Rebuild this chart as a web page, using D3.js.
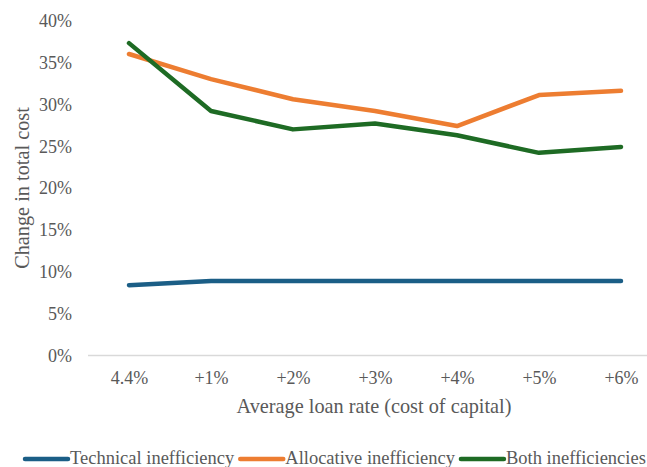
<!DOCTYPE html>
<html>
<head>
<meta charset="utf-8">
<script src="https://cdn.jsdelivr.net/npm/d3@7"></script>
<style>
  html, body { margin: 0; padding: 0; background: #fff; }
  svg text { font-family: 'Liberation Serif', Tinos, 'Times New Roman', 'DejaVu Serif', serif !important; }
</style>
</head>
<body>
<svg id="chart" width="647" height="467"></svg>
<script>
// Loan-rate scenarios and the resulting change in total cost
const categories = ["4.4%", "+1%", "+2%", "+3%", "+4%", "+5%", "+6%"];
const technical  = [0.084, 0.089, 0.089, 0.089, 0.089, 0.089, 0.089];
const allocative = [0.360, 0.330, 0.306, 0.292, 0.274, 0.311, 0.316];
const both       = [0.373, 0.292, 0.270, 0.277, 0.263, 0.242, 0.249];
const seriesNames = ["Technical inefficiency", "Allocative inefficiency", "Both inefficiencies"];
const seriesColors = ["#1b5e86", "#ed7d31", "#1e6b24"];
const yTicks = [0, 0.05, 0.10, 0.15, 0.20, 0.25, 0.30, 0.35, 0.40];

const series = [technical, allocative, both].map((values, i) => ({
  name: seriesNames[i], color: seriesColors[i], values
}));

const svg = d3.select("#chart");
const textColor = "#595959";

const x = d3.scalePoint().domain(categories).range([88, 662]).padding(0.5);
const y = d3.scaleLinear().domain([0, 0.4]).range([355.5, 20.5]);

// baseline
svg.append("line")
  .attr("x1", 88).attr("x2", 662)
  .attr("y1", y(0)).attr("y2", y(0))
  .attr("stroke", "#d9d9d9").attr("stroke-width", 1.3);

// y axis labels
const yAxis = d3.axisLeft(y).tickValues(yTicks).tickFormat(d3.format(".0%")).tickSize(0).tickPadding(0);
const gy = svg.append("g").attr("transform", "translate(72,0)").call(yAxis);
gy.attr("font-family", null);
gy.select(".domain").remove();
gy.selectAll("text").attr("fill", textColor).attr("font-size", 18).attr("dy", "0.33em");

// x axis labels
const xAxis = d3.axisBottom(x).tickSize(0).tickPadding(0);
const gx = svg.append("g").attr("transform", `translate(0,${y(0)})`).call(xAxis);
gx.attr("font-family", null);
gx.select(".domain").remove();
gx.selectAll("text").attr("fill", textColor).attr("font-size", 18)
  .attr("dy", null).attr("y", 28.5);

// axis titles
svg.append("text")
  .attr("x", 374).attr("y", 413)
  .attr("text-anchor", "middle").attr("fill", textColor).attr("font-size", 20.3)
  .text("Average loan rate (cost of capital)");
svg.append("text")
  .attr("transform", `translate(29,${(y(0) + y(0.4)) / 2}) rotate(-90)`)
  .attr("text-anchor", "middle").attr("fill", textColor).attr("font-size", 20.3)
  .text("Change in total cost");

// series lines
const line = d3.line().x((d, i) => x(categories[i])).y(d => y(d));
svg.append("g").selectAll("path").data(series).join("path")
  .attr("d", d => line(d.values))
  .attr("fill", "none")
  .attr("stroke", d => d.color)
  .attr("stroke-width", 4.5)
  .attr("stroke-linecap", "round")
  .attr("stroke-linejoin", "round");

// legend
const legend = svg.append("g");
let lx = 25;
const ly = 459;
series.forEach(s => {
  legend.append("line")
    .attr("x1", lx).attr("x2", lx + 43).attr("y1", ly).attr("y2", ly)
    .attr("stroke", s.color).attr("stroke-width", 4.5).attr("stroke-linecap", "round");
  const t = legend.append("text")
    .attr("x", lx + 45).attr("y", ly + 5)
    .attr("fill", textColor).attr("font-size", 18.5)
    .text(s.name);
  lx = lx + 45 + t.node().getComputedTextLength() + 6;
});
</script>
</body>
</html>
